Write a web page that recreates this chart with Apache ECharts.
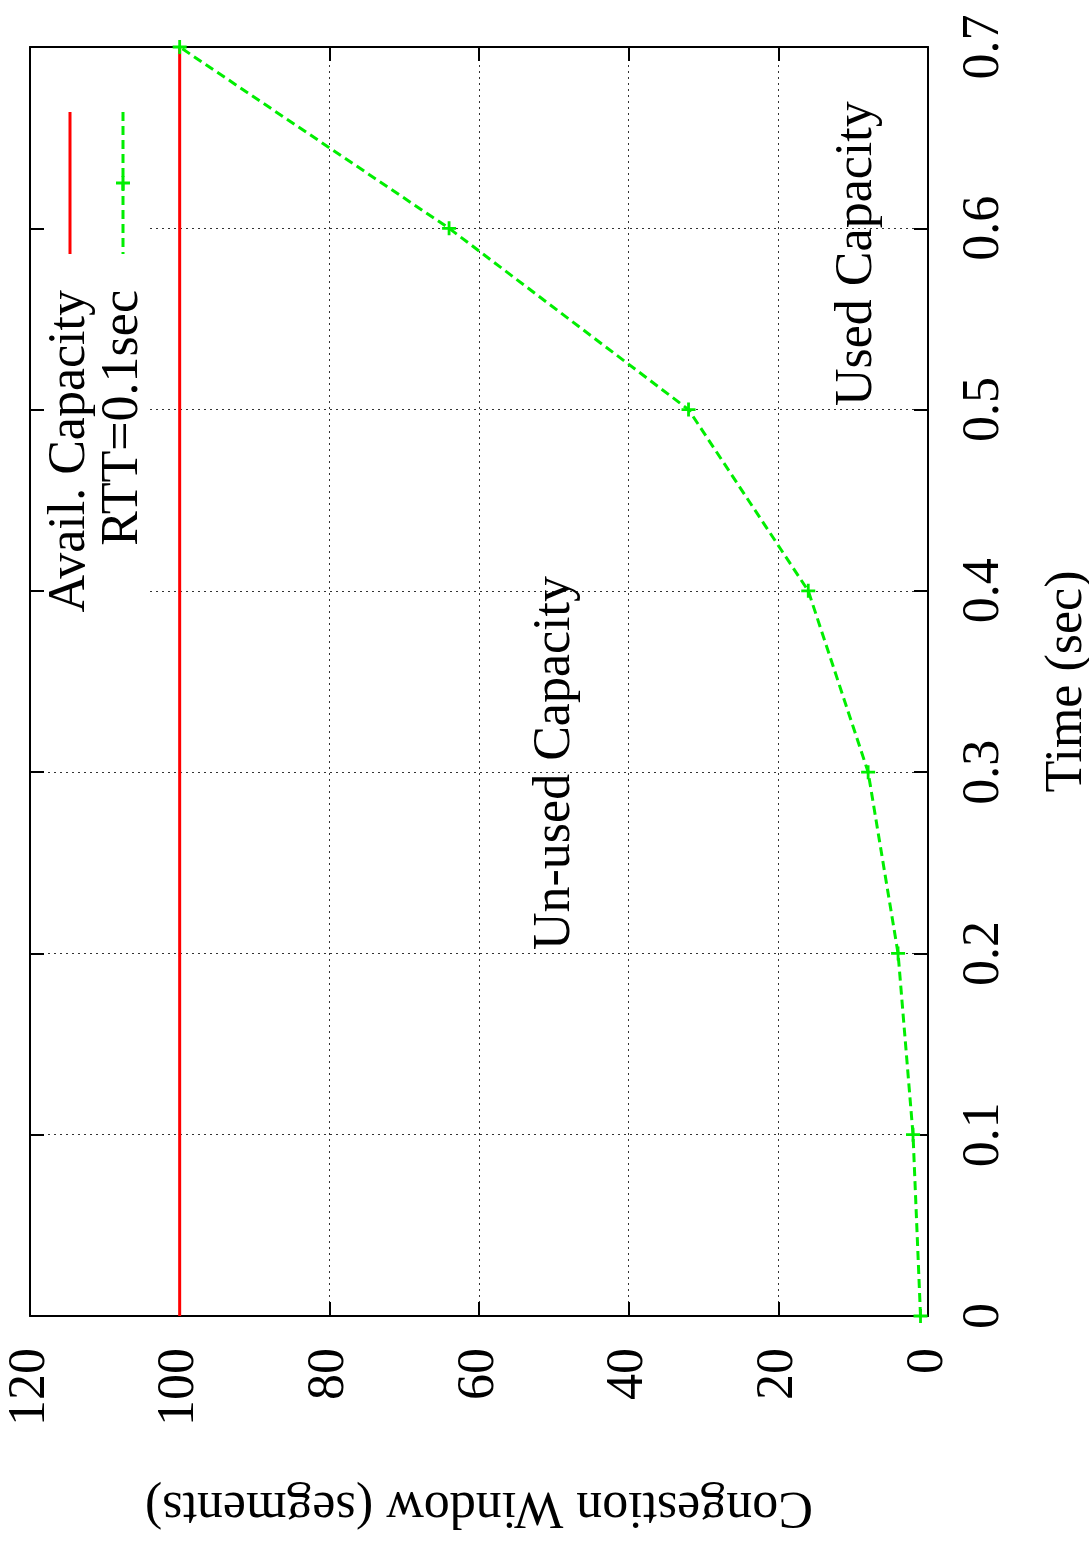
<!DOCTYPE html>
<html>
<head>
<meta charset="utf-8">
<script src="https://cdn.jsdelivr.net/npm/echarts@6/dist/echarts.min.js"></script>
<style>
  html, body { margin: 0; padding: 0; background: #fff; }
  #chart { width: 1089px; height: 1543px; }
</style>
</head>
<body>
<div id="chart"></div>
<script>
// time in seconds, one step per RTT
var times = [0, 0.1, 0.2, 0.3, 0.4, 0.5, 0.6, 0.7]
// congestion window (segments) for RTT=0.1sec
var cwnd = [1, 2, 4, 8, 16, 32, 64, 100]
// available capacity (segments)
var capacity = 100
var capTimes = [0, 0.7]

var font = '"Liberation Serif", "Times New Roman", serif'
var fs = 52

var rttData = times.map(function (t, i) { return [cwnd[i], t] })
var capData = capTimes.map(function (t) { return [capacity, t] })

var plus = 'path://M4,0H6V4H10V6H6V10H4V6H0V4H4Z'

var chart = echarts.init(document.getElementById('chart'))

var border = { onZero: false, lineStyle: { color: '#000', width: 2 } }
var ticks = { inside: true, length: 14, lineStyle: { color: '#000', width: 2 } }
var gridLine = { show: true, lineStyle: { color: '#333', width: 1, type: [2, 4] } }

var valueAxis = {
	type: 'value',
	min: 0,
	max: 120,
	interval: 20,
	inverse: true
}
var timeAxis = {
	type: 'value',
	min: 0,
	max: 0.7,
	interval: 0.1
}

chart.setOption({
	animation: false,
	backgroundColor: '#fff',
	grid: {
		left: 30,
		right: 161,
		top: 47,
		bottom: 227,
		outerBoundsMode: 'none',
		containLabel: false
	},
	xAxis: [
		Object.assign({}, valueAxis, {
			position: 'bottom',
			name: 'Congestion Window (segments)',
			nameLocation: 'middle',
			nameRotate: 180,
			nameGap: 165,
			nameTextStyle: { fontFamily: font, fontSize: fs, color: '#000' },
			axisLine: border,
			axisTick: ticks,
			axisLabel: { rotate: 90, margin: 32, fontFamily: font, fontSize: fs, color: '#000' },
			splitLine: gridLine
		}),
		Object.assign({}, valueAxis, {
			position: 'top',
			axisLine: border,
			axisTick: ticks,
			axisLabel: { show: false },
			splitLine: { show: false }
		})
	],
	yAxis: [
		Object.assign({}, timeAxis, {
			position: 'right',
			name: 'Time (sec)',
			nameLocation: 'middle',
			nameRotate: 90,
			nameGap: 113,
			nameTextStyle: { fontFamily: font, fontSize: fs, color: '#000' },
			axisLine: border,
			axisTick: ticks,
			axisLabel: { rotate: 90, margin: 30, fontFamily: font, fontSize: fs, color: '#000' },
			splitLine: gridLine
		}),
		Object.assign({}, timeAxis, {
			position: 'left',
			axisLine: border,
			axisTick: ticks,
			axisLabel: { show: false },
			splitLine: { show: false }
		})
	],
	series: [
		{
			name: 'Avail. Capacity',
			type: 'line',
			xAxisIndex: 0,
			yAxisIndex: 0,
			data: capData,
			showSymbol: false,
			symbol: 'none',
			lineStyle: { color: '#ff0000', width: 3 },
			z: 2
		},
		{
			name: 'RTT=0.1sec',
			type: 'line',
			xAxisIndex: 0,
			yAxisIndex: 0,
			data: rttData,
			symbol: plus,
			symbolSize: 14,
			itemStyle: { color: '#00ee00' },
			lineStyle: { color: '#00ee00', width: 3, type: [9, 5] },
			clip: false,
			z: 3
		}
	],
	graphic: [
		// legend box keeps grid lines away from the key
		{ type: 'rect', z: 1, shape: { x: 44, y: 60, width: 106, height: 560 }, style: { fill: '#fff' } },
		{ type: 'line', z: 4, shape: { x1: 70, y1: 112, x2: 70, y2: 254 }, style: { stroke: '#ff0000', lineWidth: 3 } },
		{ type: 'line', z: 4, shape: { x1: 123, y1: 112, x2: 123, y2: 254 }, style: { stroke: '#00ee00', lineWidth: 3, lineDash: [9, 5] } },
		{ type: 'line', z: 4, shape: { x1: 116, y1: 183, x2: 130, y2: 183 }, style: { stroke: '#00ee00', lineWidth: 3 } },
		{ type: 'line', z: 4, shape: { x1: 123, y1: 176, x2: 123, y2: 190 }, style: { stroke: '#00ee00', lineWidth: 3 } },
		{ type: 'text', z: 4, x: 70, y: 290, rotation: Math.PI / 2,
			style: { text: 'Avail. Capacity', fontFamily: font, fontSize: fs, fill: '#000', align: 'right', verticalAlign: 'middle' } },
		{ type: 'text', z: 4, x: 123, y: 290, rotation: Math.PI / 2,
			style: { text: 'RTT=0.1sec', fontFamily: font, fontSize: fs, fill: '#000', align: 'right', verticalAlign: 'middle' } },
		// annotations
		{ type: 'text', z: 4, x: 555, y: 950, rotation: Math.PI / 2,
			style: { text: 'Un-used Capacity', fontFamily: font, fontSize: fs, fill: '#000', align: 'left', verticalAlign: 'middle' } },
		{ type: 'text', z: 4, x: 857, y: 406, rotation: Math.PI / 2,
			style: { text: 'Used Capacity', fontFamily: font, fontSize: fs, fill: '#000', align: 'left', verticalAlign: 'middle' } }
	]
})
</script>
</body>
</html>
